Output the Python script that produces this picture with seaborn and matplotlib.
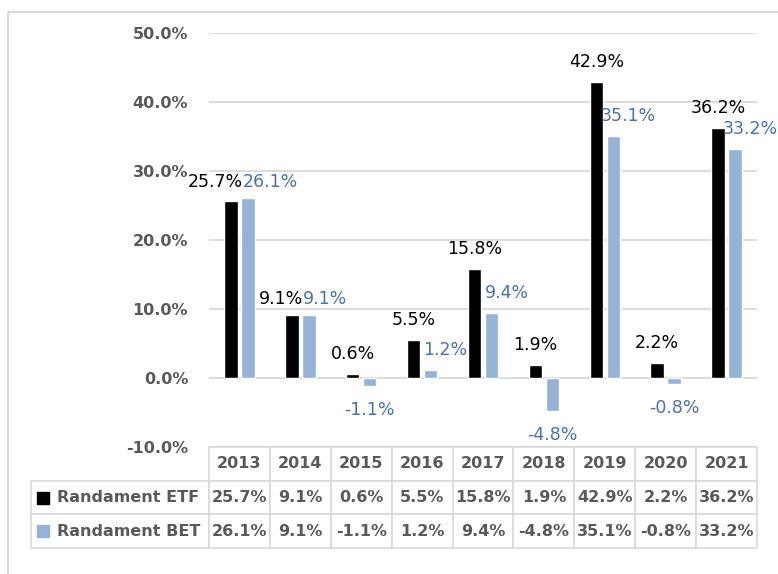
import numpy as np
import pandas as pd
import seaborn as sns
from matplotlib import pyplot as plt
from matplotlib.patches import Rectangle
from matplotlib.lines import Line2D

# data
years = ["2013", "2014", "2015", "2016", "2017", "2018", "2019", "2020", "2021"]
etf = [25.7, 9.1, 0.6, 5.5, 15.8, 1.9, 42.9, 2.2, 36.2]
bet = [26.1, 9.1, -1.1, 1.2, 9.4, -4.8, 35.1, -0.8, 33.2]
series = ["Randament ETF", "Randament BET"]

BLACK = "#000000"
BLUE = "#95B3D7"
BLUE_TXT = "#4A72A6"
GRAY = "#595959"
LINE = "#D9D9D9"

sns.set_style("white")
plt.rcParams["font.family"] = ["DejaVu Sans"]

df = pd.DataFrame({
    "year": years * 2,
    "value": etf + bet,
    "series": [series[0]] * len(years) + [series[1]] * len(years),
})

W, H = 778, 574
fig = plt.figure(figsize=(W / 100, H / 100), dpi=100)
fig.patch.set_linewidth(0)
ax = fig.add_axes([209 / W, 1 - 447 / H, 548 / W, 414 / H])

sns.barplot(data=df, x="year", y="value", hue="series", order=years,
            hue_order=series, palette=[BLACK, BLUE], width=0.56, gap=0.21,
            saturation=1, legend=False, ax=ax, errorbar=None)

ax.set_xlim(-0.5, len(years) - 0.5)
ax.set_ylim(-10, 50)
ax.set_yticks(np.arange(-10, 51, 10))
ax.set_yticklabels([f"{v:.1f}%" for v in np.arange(-10, 51, 10)],
                   fontsize=11.5, fontweight="bold", color=GRAY)
ax.tick_params(axis="y", length=0, pad=15)
ax.set_xticks([])
ax.set_xlabel("")
ax.set_ylabel("")
for s in ax.spines.values():
    s.set_visible(False)
ax.grid(axis="y", color=LINE, lw=1.3)
ax.set_axisbelow(True)

# data labels (side by side when the two bars are about the same height)
lab = dict(textcoords="offset pixels", va="center", fontsize=12.5)
for i, (bk, bb) in enumerate(zip(ax.containers[0], ax.containers[1])):
    e, b = etf[i], bet[i]
    ce = bk.get_x() + bk.get_width() / 2
    cb = bb.get_x() + bb.get_width() / 2
    if b >= 0 and abs(e - b) < 2:
        top = max(e, b)
        ax.annotate(f"{e:.1f}%", (i, top), xytext=(3, 16), ha="right", color=BLACK, **lab)
        ax.annotate(f"{b:.1f}%", (i, top), xytext=(3, 16), ha="left", color=BLUE_TXT, **lab)
        continue
    ax.annotate(f"{e:.1f}%", (ce, e), xytext=(0, 20), ha="center", color=BLACK, **lab)
    if b >= 0:
        ax.annotate(f"{b:.1f}%", (cb, b), xytext=(15, 20), ha="center", color=BLUE_TXT, **lab)
    else:
        ax.annotate(f"{b:.1f}%", (cb, b), xytext=(0, -24), ha="center", color=BLUE_TXT, **lab)

# data table under the chart
cell_text = [[""] + years,
             [series[0]] + [f"{v:.1f}%" for v in etf],
             [series[1]] + [f"{v:.1f}%" for v in bet]]
lab_w = 178 / 548
col_w = [lab_w] + [1 / len(years)] * len(years)
tbl = ax.table(cellText=cell_text, colWidths=col_w, cellLoc="center",
               bbox=[-lab_w, -101 / 414, 1 + lab_w, 101 / 414])
tbl.auto_set_font_size(False)
for (r, c), cell in tbl.get_celld().items():
    cell.set_edgecolor(LINE)
    cell.set_linewidth(1.2)
    t = cell.get_text()
    t.set_fontsize(11.5)
    t.set_fontweight("bold")
    t.set_color(GRAY)
    if c == 0:
        t.set_ha("left")
        cell.PAD = 0.146
        if r == 0:
            cell.visible_edges = ""

# legend keys inside the table row labels
fig.canvas.draw()
for r, col in [(1, BLACK), (2, BLUE)]:
    cell = tbl[(r, 0)]
    cy = cell.get_y() + cell.get_height() / 2
    sq_w, sq_h = 12 / 548, 12 / 414
    ax.add_patch(Rectangle((cell.get_x() + 6 / 548, cy - sq_h / 2), sq_w, sq_h,
                           transform=ax.transAxes, color=col, clip_on=False))

# chart area border (top and left)
fig.add_artist(Line2D([8 / W, 1.0], [1 - 11.5 / H, 1 - 11.5 / H], color=LINE, lw=1.5,
                      solid_capstyle="butt"))
fig.add_artist(Line2D([8 / W, 8 / W], [0, 1 - 11.5 / H], color=LINE, lw=1.5,
                      solid_capstyle="butt"))

fig.savefig("out.png", dpi=100)
